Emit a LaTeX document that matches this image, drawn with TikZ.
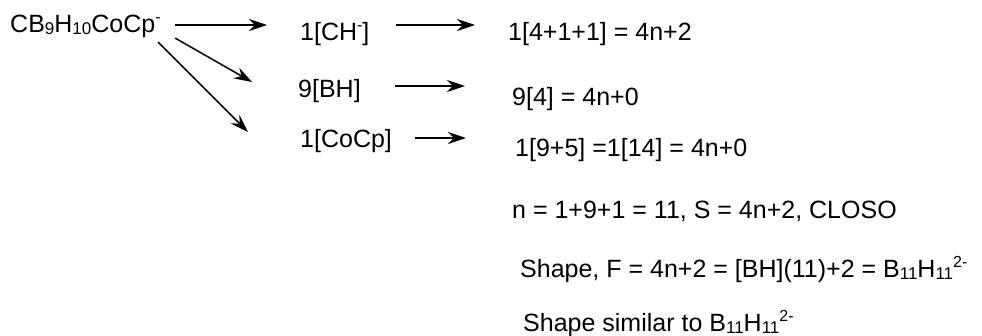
\documentclass[tikz,border=0pt]{standalone}
\usepackage{fontspec}
\setmainfont{Liberation Sans}
\usetikzlibrary{arrows.meta}
\newcommand\mysb[1]{\raisebox{-2pt}{\fontsize{17}{17}\selectfont #1}}
\newcommand\mysp[1]{\raisebox{9.5pt}{\fontsize{16}{16}\selectfont #1}}
\begin{document}
\begin{tikzpicture}[x=1pt,y=-1pt,
  txt/.style={anchor=base west,inner sep=0pt,font=\fontsize{25}{29}\selectfont},
  arr/.style={-{Stealth[length=18pt,width=12pt,inset=6pt]},line width=1.5pt}]
\useasboundingbox[fill=white] (0,0) rectangle (982,335);
\node[txt] (src) at (10,32) {CB\mysb{9}H\mysb{10}CoCp\mysp{-}};
\node[txt] (ch) at (300,40) {1[CH\mysp{-}]};
\node[txt] (bh) at (298,97) {9[BH]};
\node[txt] (cocp) at (300,147) {1[CoCp]};
\node[txt] (r1) at (508,40) {1[4+1+1] = 4n+2};
\node[txt] (r2) at (512,105) {9[4] = 4n+0};
\node[txt] (r3) at (515,156) {1[9+5] =1[14] = 4n+0};
\node[txt] (l1) at (512,218) {n = 1+9+1 = 11, S = 4n+2, CLOSO};
\node[txt] (l2) at (520,277) {Shape, F = 4n+2 = [BH](11)+2 = B\mysb{11}H\mysb{11}\mysp{2-}};
\node[txt] (l3) at (523,331) {Shape similar to B\mysb{11}H\mysb{11}\mysp{2-}};
\coordinate (a1s) at (175,25); \coordinate (a1e) at (267,25);
\coordinate (a2s) at (175,38); \coordinate (a2e) at (252,82);
\coordinate (a3s) at (158,42); \coordinate (a3e) at (248,132);
\coordinate (b1s) at (396,25); \coordinate (b1e) at (475,25);
\coordinate (b2s) at (395,86); \coordinate (b2e) at (465,86);
\coordinate (b3s) at (415,138); \coordinate (b3e) at (466,138);
\draw[arr] (a1s) -- (a1e);
\draw[arr] (a2s) -- (a2e);
\draw[arr] (a3s) -- (a3e);
\draw[arr] (b1s) -- (b1e);
\draw[arr] (b2s) -- (b2e);
\draw[arr] (b3s) -- (b3e);
\end{tikzpicture}
\end{document}
